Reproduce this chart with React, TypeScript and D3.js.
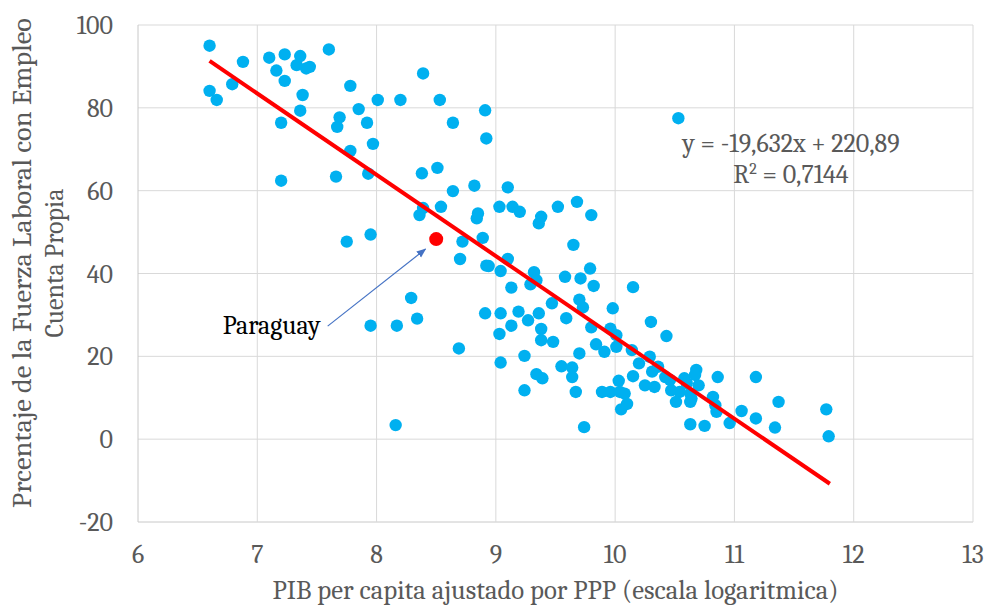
import React from "react";
import { scaleLinear, line } from "d3";

const width = 992;
const height = 607;

const margin = {
  top: 25,
  right: 19,
  bottom: 85,
  left: 138
};

const innerWidth = width - margin.left - margin.right;
const innerHeight = height - margin.top - margin.bottom;

// log GDP per capita (PPP) for each country
const logGdp = [
  6.60, 6.88, 6.60, 6.66, 6.79, 7.10, 7.23, 7.36, 7.33, 7.41, 7.44, 7.16, 7.23, 7.60, 7.38, 7.36,
  7.20, 7.78, 8.01, 8.20, 7.85, 7.69, 7.67, 7.92, 7.97, 7.78, 7.20, 7.66, 7.93, 8.38, 8.39, 8.36,
  8.39, 8.53, 8.64, 8.91, 8.92, 8.51, 8.64, 8.82, 9.10, 8.54, 8.85, 8.84, 9.03, 9.14, 9.20, 9.38,
  9.36, 9.52, 9.68, 9.80, 7.75, 7.95, 8.72, 8.89, 8.70, 9.10, 8.92, 8.94, 9.04, 9.32, 9.34, 9.29,
  9.13, 9.58, 9.71, 9.79, 9.82, 9.65, 10.15, 9.47, 9.70, 9.73, 9.98, 10.30, 10.43, 8.29, 8.34, 7.95,
  8.17, 8.69, 8.91, 9.04, 9.19, 9.27, 9.36, 9.38, 9.13, 9.03, 9.38, 9.48, 9.59, 9.80, 9.96, 10.01,
  9.84, 9.91, 10.01, 9.70, 9.24, 9.04, 9.55, 9.64, 9.34, 9.39, 9.64, 10.03, 10.15, 10.14, 10.29, 10.20,
  10.36, 10.31, 10.25, 10.33, 10.42, 10.46, 10.47, 10.54, 10.58, 10.60, 10.68, 10.67, 10.70, 10.63, 10.51, 10.64,
  10.63, 10.86, 10.82, 10.84, 10.85, 11.18, 11.06, 11.18, 11.37, 11.34, 10.96, 10.63, 10.75, 11.77, 11.79, 9.74,
  8.16, 9.89, 9.96, 10.04, 10.08, 10.10, 10.05, 9.67, 9.24, 10.53
];

// share of labour force that is self-employed (%)
const selfEmployed = [
  95.0, 91.1, 84.1, 81.9, 85.7, 92.1, 92.9, 92.5, 90.3, 89.5, 89.9, 89.0, 86.5, 94.1, 83.1, 79.3,
  76.4, 85.3, 81.9, 81.9, 79.7, 77.7, 75.4, 76.4, 71.3, 69.6, 62.4, 63.4, 64.1, 64.2, 88.3, 54.1,
  55.8, 81.9, 76.4, 79.4, 72.6, 65.5, 59.9, 61.2, 60.8, 56.1, 54.5, 53.3, 56.1, 56.1, 54.9, 53.7,
  52.1, 56.1, 57.3, 54.1, 47.7, 49.4, 47.7, 48.6, 43.5, 43.5, 41.9, 41.8, 40.6, 40.3, 38.4, 37.4,
  36.6, 39.2, 38.8, 41.2, 37.0, 46.9, 36.7, 32.8, 33.7, 31.8, 31.6, 28.3, 24.9, 34.1, 29.1, 27.4,
  27.4, 21.9, 30.4, 30.4, 30.8, 28.7, 30.4, 26.6, 27.4, 25.4, 23.9, 23.5, 29.2, 27.0, 26.7, 25.1,
  22.9, 21.1, 22.3, 20.7, 20.1, 18.5, 17.6, 17.3, 15.7, 14.7, 15.0, 14.1, 15.2, 21.5, 19.9, 18.3,
  17.5, 16.3, 13.0, 12.6, 15.0, 14.3, 11.8, 11.4, 14.7, 13.5, 16.7, 15.5, 13.0, 11.0, 9.0, 9.8,
  9.0, 15.0, 10.2, 8.2, 6.6, 15.0, 6.8, 5.0, 9.0, 2.8, 3.9, 3.6, 3.2, 7.2, 0.7, 2.9,
  3.4, 11.4, 11.4, 11.4, 11.0, 8.5, 7.2, 11.4, 11.8, 77.5
];

const paraguay = { x: 8.5, y: 48.3 };

const trendSlope = -19.632;
const trendIntercept = 220.89;
const trendExtent = [6.6, 11.8];

const xTicks = [6, 7, 8, 9, 10, 11, 12, 13];
const yTicks = [-20, 0, 20, 40, 60, 80, 100];

const font = "Cambria, 'Liberation Serif', serif";
const gray = "#595959";
const fs = 26;

const points = logGdp.map((x, i) => ({ x, y: selfEmployed[i] }));
const trendData = trendExtent.map((x) => ({ x, y: trendSlope * x + trendIntercept }));

const App = () => {
  const xScale = scaleLinear().domain([6, 13]).range([0, innerWidth]);
  const yScale = scaleLinear().domain([-20, 100]).range([innerHeight, 0]);

  const trendPath = line<{ x: number; y: number }>()
    .x((d) => xScale(d.x))
    .y((d) => yScale(d.y))(trendData);

  // arrow from the label to Paraguay
  const ax1 = xScale(7.59);
  const ay1 = yScale(27.3);
  const ax2 = xScale(8.41);
  const ay2 = yScale(45.9);

  return (
    <div style={{ position: "absolute", left: 0, top: 0 }}>
      <svg width={width} height={height} style={{ display: "block", background: "#fff" }}>
        <defs>
          <marker id="arrow" viewBox="0 0 10 10" refX="9" refY="5" markerWidth="8" markerHeight="8" orient="auto">
            <path d="M0,1 L10,5 L0,9 z" fill="#4472C4" />
          </marker>
        </defs>
        <g transform={`translate(${margin.left}, ${margin.top})`}>
          {/* gridlines */}
          {yTicks.map((t) => (
            <line key={"gy" + t} x1={0} x2={innerWidth} y1={yScale(t)} y2={yScale(t)}
              stroke={t === -20 ? "#c8c8c8" : "#d9d9d9"} strokeWidth={1} />
          ))}
          {xTicks.map((t) => (
            <line key={"gx" + t} x1={xScale(t)} x2={xScale(t)} y1={0} y2={innerHeight}
              stroke={t === 6 ? "#c8c8c8" : "#d9d9d9"} strokeWidth={1} />
          ))}

          {/* tick labels */}
          {yTicks.map((t) => (
            <text key={"ty" + t} x={-25} y={yScale(t)} dy="0.35em" textAnchor="end"
              fontFamily={font} fontSize={fs} fill={gray}>{t}</text>
          ))}
          {xTicks.map((t) => (
            <text key={"tx" + t} x={xScale(t)} y={innerHeight + 41} textAnchor="middle"
              fontFamily={font} fontSize={fs} fill={gray}>{t}</text>
          ))}

          {/* points */}
          {points.map((d, i) => (
            <circle key={i} cx={xScale(d.x)} cy={yScale(d.y)} r={6.2} fill="#00B0F0" />
          ))}

          {/* trend line */}
          <path d={trendPath || ""} fill="none" stroke="#FF0000" strokeWidth={4} />

          {/* Paraguay */}
          <circle cx={xScale(paraguay.x)} cy={yScale(paraguay.y)} r={7} fill="#FF0000" />
          <line x1={ax1} y1={ay1} x2={ax2} y2={ay2} stroke="#4472C4" strokeWidth={1.2} markerEnd="url(#arrow)" />
          <text x={ax1 - 7} y={ay1 + 8} textAnchor="end" fontFamily={font} fontSize={fs} fill="#000">Paraguay</text>

          {/* equation */}
          <text x={653} y={127} textAnchor="middle" fontFamily={font} fontSize={fs} fill={gray}>
            y = -19,632x + 220,89
          </text>
          <text x={653} y={158} textAnchor="middle" fontFamily={font} fontSize={fs} fill={gray}>
            R<tspan dy="-9" fontSize={16}>2</tspan><tspan dy="9"> = 0,7144</tspan>
          </text>
        </g>

        {/* axis titles */}
        <text x={margin.left + innerWidth / 2} y={599} textAnchor="middle" fontFamily={font} fontSize={fs} fill={gray}
          textLength={566} lengthAdjust="spacingAndGlyphs">
          PIB per capita ajustado por PPP (escala logaritmica)
        </text>
        <g transform={`translate(0, 263) rotate(-90)`}>
          <text x={0} y={31} textAnchor="middle" fontFamily={font} fontSize={fs} fill={gray}
            textLength={490} lengthAdjust="spacingAndGlyphs">
            Prcentaje de la Fuerza Laboral con Empleo
          </text>
          <text x={0} y={63} textAnchor="middle" fontFamily={font} fontSize={fs} fill={gray}>
            Cuenta Propia
          </text>
        </g>
      </svg>
    </div>
  );
};

export default App;
